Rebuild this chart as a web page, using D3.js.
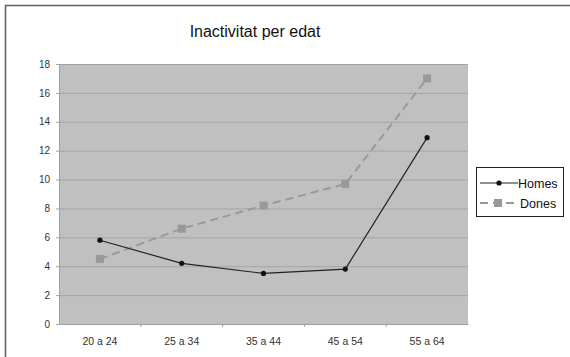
<!DOCTYPE html>
<html><head><meta charset="utf-8">
<script src="https://cdn.jsdelivr.net/npm/d3@7"></script>
<style>body{margin:0;background:#fff}svg{display:block}text{font-family:"Liberation Sans",Arial,sans-serif}</style>
</head><body><svg id="c" width="570" height="357"></svg>
<script>
const categories = ["20 a 24","25 a 34","35 a 44","45 a 54","55 a 64"];
const homes = [5.8, 4.2, 3.5, 3.8, 12.9];
const dones = [4.5, 6.6, 8.2, 9.7, 17.0];
const yTicks = [0,2,4,6,8,10,12,14,16,18];
const title = "Inactivitat per edat";

const svg = d3.select("#c");
svg.append("rect").attr("x",5.5).attr("y",5.5).attr("width",620).attr("height",400)
  .attr("fill","#fff").attr("stroke","#666").attr("stroke-width",1.6);

const L=59, R=468, T=64, B=324;
const x = d3.scaleBand().domain(categories).range([L,R]);
const y = d3.scaleLinear().domain([0,18]).range([B,T]);

svg.append("rect").attr("x",L).attr("y",T).attr("width",R-L).attr("height",B-T).attr("fill","#c0c0c0");
svg.append("g").selectAll("line").data(yTicks.filter(d=>d>0)).join("line")
  .attr("x1",L).attr("x2",R).attr("y1",d=>y(d)+0.5).attr("y2",d=>y(d)+0.5)
  .attr("stroke","#a4a4a4").attr("stroke-width",1);

const ya = svg.append("g").attr("transform",`translate(${L},0)`)
  .call(d3.axisLeft(y).tickValues(yTicks).tickSize(3).tickSizeOuter(0));
ya.select(".domain").attr("stroke","#a0a0a0");
ya.selectAll("line").attr("stroke","#a0a0a0");
ya.selectAll("text").attr("font-size",10).attr("fill","#333").attr("dx",-3);

const xa = svg.append("g").attr("transform",`translate(0,${B})`)
  .call(d3.axisBottom(x).tickSize(0).tickSizeOuter(0));
xa.select(".domain").attr("stroke","#a0a0a0");
xa.selectAll("text").attr("font-size",10.5).attr("fill","#333").attr("dy",18);
svg.append("g").selectAll("line").data(categories.slice(1)).join("line")
  .attr("x1",d=>x(d)).attr("x2",d=>x(d)).attr("y1",B).attr("y2",B+3).attr("stroke","#a0a0a0");

const cx = d=>x(d)+x.bandwidth()/2;
const line = d3.line().x((d,i)=>cx(categories[i])).y(d=>y(d));

svg.append("path").datum(dones).attr("d",line).attr("fill","none")
  .attr("stroke","#999").attr("stroke-width",2).attr("stroke-dasharray","8,5");
svg.append("g").selectAll("rect").data(dones).join("rect")
  .attr("x",(d,i)=>cx(categories[i])-4).attr("y",d=>y(d)-4).attr("width",8).attr("height",8).attr("fill","#999");

svg.append("path").datum(homes).attr("d",line).attr("fill","none")
  .attr("stroke","#222").attr("stroke-width",1.2);
svg.append("g").selectAll("circle").data(homes).join("circle")
  .attr("cx",(d,i)=>cx(categories[i])).attr("cy",d=>y(d)).attr("r",2.6).attr("fill","#111");

svg.append("text").attr("x",255).attr("y",37).attr("text-anchor","middle")
  .attr("font-size",16).attr("fill","#111").text(title);

// legend
const lg = svg.append("g");
lg.append("rect").attr("x",476.5).attr("y",167.5).attr("width",87).attr("height",49)
  .attr("fill","#fff").attr("stroke","#222").attr("stroke-width",1);
lg.append("line").attr("x1",480).attr("x2",518).attr("y1",183).attr("y2",183).attr("stroke","#222").attr("stroke-width",1.2);
lg.append("circle").attr("cx",499).attr("cy",183).attr("r",2.6).attr("fill","#111");
lg.append("text").attr("x",518).attr("y",187.5).attr("font-size",12.5).attr("fill","#111").text("Homes");
lg.append("line").attr("x1",480).attr("x2",516).attr("y1",203).attr("y2",203).attr("stroke","#999").attr("stroke-width",2).attr("stroke-dasharray","8,5");
lg.append("rect").attr("x",494).attr("y",199).attr("width",8).attr("height",8).attr("fill","#999");
lg.append("text").attr("x",520).attr("y",207.5).attr("font-size",12.5).attr("fill","#111").text("Dones");
</script></body></html>
